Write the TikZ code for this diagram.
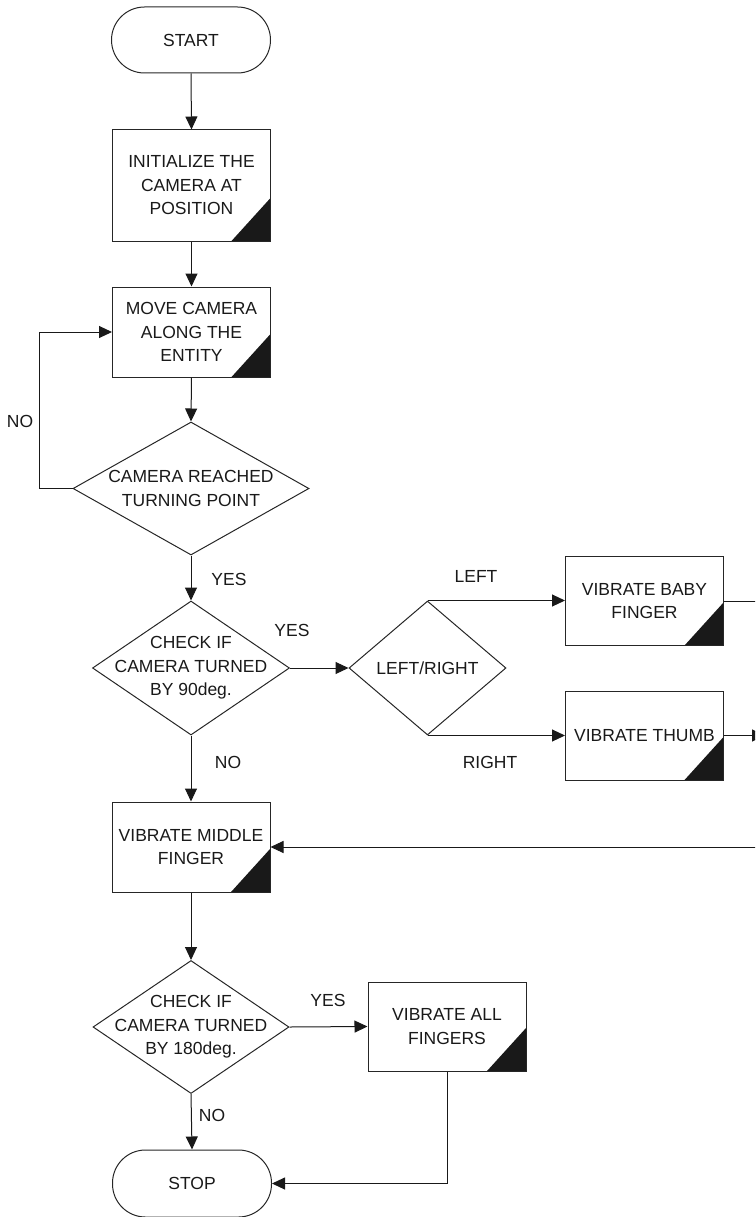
\documentclass[tikz,border=0pt]{standalone}
\usepackage{fontspec}
\setmainfont{Liberation Sans}
\usetikzlibrary{shapes.geometric,arrows.meta}
\begin{document}
\begin{tikzpicture}[x=1pt,y=-1pt,
  every node/.style={font=\fontsize{17.5}{23.5}\selectfont, text=black!90},
  line/.style={draw=black!90, line width=1pt},
  arrow/.style={line, -{Triangle[length=13pt,width=12pt]}},
  term/.style={draw=black!85, line width=1pt, rectangle, rounded corners=33pt,
    minimum width=159pt, minimum height=66pt, inner sep=0pt},
  proc/.style={draw=black!85, line width=1pt, rectangle, minimum width=158pt,
    inner sep=0pt, align=center,
    path picture={\fill[black!90] (path picture bounding box.south east)
      -- ++(-39pt,0pt) -- ++(39pt,43pt) -- cycle;}},
  decision/.style={draw=black!85, line width=1pt, diamond, inner sep=0pt},
  lbl/.style={inner sep=0pt}
]
\clip (0,0) rectangle (755,1217);

% main column
\node[term] (start) at (191,40) {START};
\node[proc, minimum height=111pt] (init) at (191.5,185.5) {INITIALIZE THE\\CAMERA AT\\POSITION};
\node[proc, minimum height=90pt] (move) at (191.5,332) {MOVE CAMERA\\ALONG THE\\ENTITY};
\node[decision, minimum width=236pt, minimum height=133pt,
  label={[lbl, align=center]center:CAMERA REACHED\\TURNING POINT}] (reach) at (191,488.5) {};
\node[decision, minimum width=197pt, minimum height=134pt,
  label={[lbl, align=center]center:CHECK IF\\CAMERA TURNED\\BY 90deg.}] (turn90) at (191,668) {};
\node[decision, minimum width=157pt, minimum height=134pt,
  label={[lbl, align=center]center:LEFT/RIGHT}] (side) at (427.5,668) {};
\node[proc, minimum height=89pt] (baby) at (644.5,601) {VIBRATE BABY\\FINGER};
\node[proc, minimum height=89pt] (thumb) at (644.5,735.5) {VIBRATE THUMB};
\node[proc, minimum height=90pt] (middle) at (191,847) {VIBRATE MIDDLE\\FINGER};
\node[decision, minimum width=196pt, minimum height=133pt,
  label={[lbl, align=center]center:CHECK IF\\CAMERA TURNED\\BY 180deg.}] (turn180) at (191,1027) {};
\node[proc, minimum height=89pt] (all) at (447,1026.5) {VIBRATE ALL\\FINGERS};
\node[term, minimum height=67pt] (stop) at (192,1183.5) {STOP};

% free ends on the right margin
\coordinate (rtop) at (760,601);
\coordinate (rmid) at (765,735.5);
\coordinate (rbot) at (760,847);

% connectors
\draw[arrow] (start.south) -- (init.north);
\draw[arrow] (init.south) -- (move.north);
\draw[arrow] (move.south) -- (reach.north);
\draw[arrow] (reach.west) -- ++(-33,0) |- (move.west);
\draw[arrow] (reach.south) -- (turn90.north);
\draw[arrow] (turn90.east) -- (side.west);
\draw[arrow] (side.north) -- (baby.west |- side.north);
\draw[arrow] (side.south) -- (thumb.west |- side.south);
\draw[line] (baby.east) -- (rtop);
\draw[arrow] (thumb.east) -- (rmid);
\draw[arrow] (rbot) -- (middle.east);
\draw[arrow] (turn90.south) -- (middle.north);
\draw[arrow] (middle.south) -- (turn180.north);
\draw[arrow] (turn180.east) -- (all.west);
\draw[arrow] (turn180.south) -- (stop.north);
\draw[arrow] (all.south) |- (stop.east);

% branch labels
\node[lbl] (noloop) at (20,421) {NO};
\node[lbl] (yes1) at (229,579) {YES};
\node[lbl] (yes2) at (292,630) {YES};
\node[lbl] (leftlbl) at (476,576) {LEFT};
\node[lbl] (rightlbl) at (490,762) {RIGHT};
\node[lbl] (no2) at (228,762) {NO};
\node[lbl] (yes3) at (328,1000) {YES};
\node[lbl] (no3) at (212,1115) {NO};
\end{tikzpicture}
\end{document}
